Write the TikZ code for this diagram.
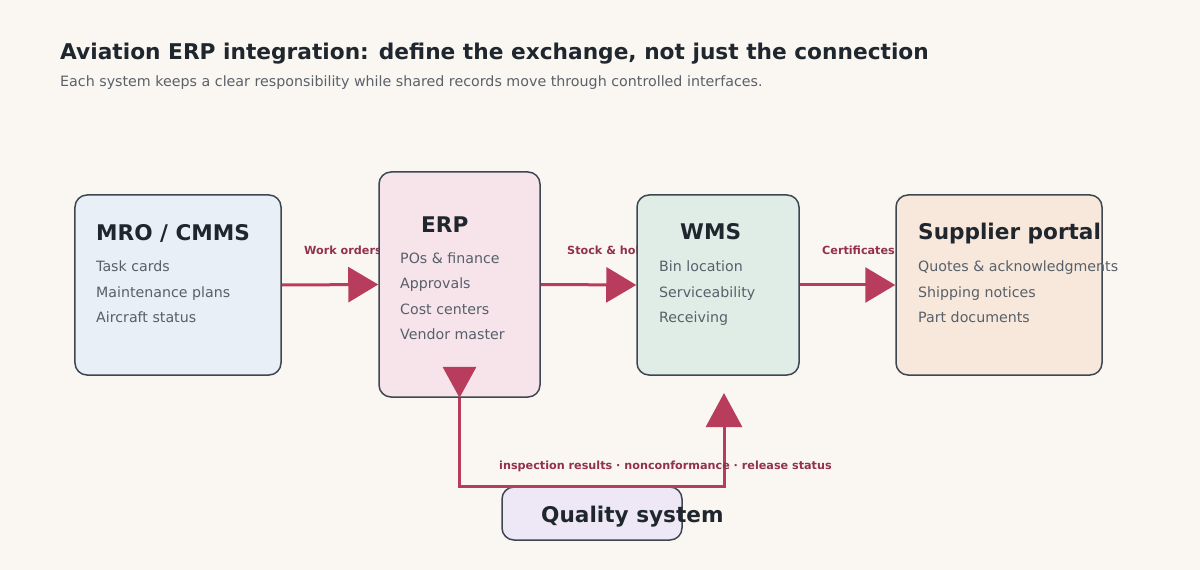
\documentclass[tikz,border=0pt]{standalone}
\usepackage{fontspec}
\setmainfont{DejaVu Sans}
\usetikzlibrary{arrows.meta}
\definecolor{bgc}{HTML}{FAF7F2}
\definecolor{mrofill}{HTML}{E8EFF6}
\definecolor{erpfill}{HTML}{F7E4EA}
\definecolor{wmsfill}{HTML}{DFEDE6}
\definecolor{supfill}{HTML}{F8E8DB}
\definecolor{qualfill}{HTML}{EEE8F6}
\definecolor{bordc}{HTML}{3D4651}
\definecolor{titc}{HTML}{1F262D}
\definecolor{itemc}{HTML}{56606A}
\definecolor{subc}{HTML}{5A6169}
\definecolor{arrc}{HTML}{B83D5C}
\definecolor{labc}{HTML}{94304F}
\tikzset{
  sysbox/.style={draw=bordc, line width=1.5bp, rounded corners=12bp, inner sep=0pt},
  boxtitle/.style={anchor=base west, inner sep=0pt, text=titc, font=\fontsize{21.6bp}{26bp}\selectfont\bfseries},
  item/.style={anchor=base west, inner sep=0pt, text=itemc, font=\fontsize{14.2bp}{17bp}\selectfont},
  flowlabel/.style={anchor=base west, inner sep=0pt, text=labc, font=\fontsize{11.2bp}{13bp}\selectfont\bfseries},
  flow/.style={draw=arrc, line width=3bp, -{Triangle[length=30bp,width=35bp]}},
}
\begin{document}
\begin{tikzpicture}[x=1bp, y=-1bp]
\fill[bgc] (0,0) rectangle (1200,570);
\useasboundingbox (0,0) rectangle (1200,570);

% title
\node[anchor=base west, inner sep=0pt, text=titc, font=\fontsize{21.7bp}{26bp}\selectfont\bfseries] (title) at (60,60) {Aviation ERP integration: define the exchange, not just the connection};
\node[anchor=base west, inner sep=0pt, text=subc, font=\fontsize{14.25bp}{17bp}\selectfont] (subtitle) at (60,87) {Each system keeps a clear responsibility while shared records move through controlled interfaces.};

% flow labels (behind boxes)
\node[flowlabel] (lwo) at (304,255) {Work orders};
\node[flowlabel] (lsh) at (567,255) {Stock \& holds};
\node[flowlabel] (lce) at (822,255) {Certificates};

% boxes
\node[sysbox, fill=mrofill, minimum width=206bp, minimum height=180bp] (mro) at (178,285) {};
\node[sysbox, fill=erpfill, minimum width=161bp, minimum height=225bp] (erp) at (459.5,284.5) {};
\node[sysbox, fill=wmsfill, minimum width=162bp, minimum height=180bp] (wms) at (718,285) {};
\node[sysbox, fill=supfill, minimum width=206bp, minimum height=180bp] (sup) at (999,285) {};
\node[sysbox, fill=qualfill, minimum width=180bp, minimum height=53bp] (qual) at (592,513.5) {};

% horizontal flows
\draw[flow] (mro.east) -- (erp.west);
\draw[flow] (erp.east) -- (wms.west);
\draw[flow] (wms.east) -- (sup.west);

% quality loop
\coordinate (qtip) at (724,393);
\draw[draw=arrc, line width=3bp, -{Triangle[length=34bp,width=36bp]}] (erp.south) |- (qtip |- qual.north) -- (qtip);
\fill[arrc] (erp.south) -- ++(-17,-31) -- ++(34,0) -- cycle;
\node[flowlabel] (lq) at (499,469) {inspection results · nonconformance · release status};

% box texts
\node[boxtitle] at (96,241) {MRO / CMMS};
\node[item] at (96,272) {Task cards};
\node[item] at (96,298) {Maintenance plans};
\node[item] at (96,323) {Aircraft status};

\node[boxtitle] at (421,233) {ERP};
\node[item] at (400,264) {POs \& finance};
\node[item] at (400,289) {Approvals};
\node[item] at (400,315) {Cost centers};
\node[item] at (400,340) {Vendor master};

\node[boxtitle] at (680,240) {WMS};
\node[item] at (659,272) {Bin location};
\node[item] at (659,298) {Serviceability};
\node[item] at (659,323) {Receiving};

\node[boxtitle] at (918,240) {Supplier portal};
\node[item] at (918,272) {Quotes \& acknowledgments};
\node[item] at (918,298) {Shipping notices};
\node[item] at (918,323) {Part documents};

\node[boxtitle] at (541,522) {Quality system};
\end{tikzpicture}
\end{document}
